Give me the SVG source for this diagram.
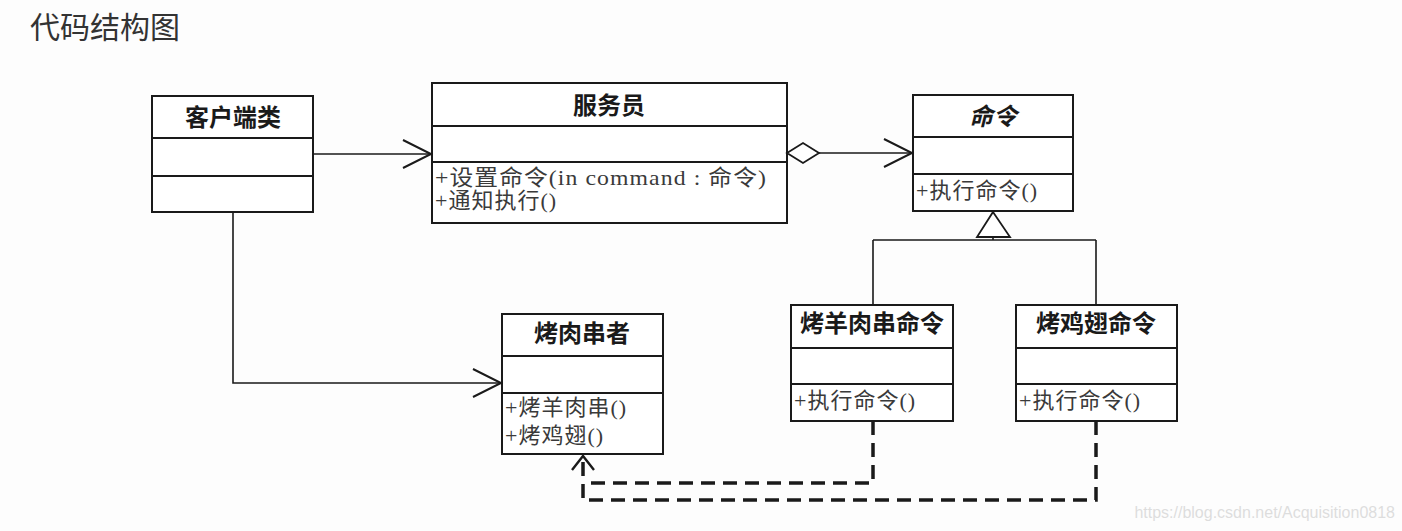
<svg xmlns="http://www.w3.org/2000/svg" width="1402" height="531" viewBox="0 0 1402 531">
  <style>
    .box { fill: #ffffff; stroke: #1a1a1a; stroke-width: 2; }
    .div { stroke: #1a1a1a; stroke-width: 2; }
    .title { font-family: "Noto Sans CJK SC", sans-serif; font-weight: bold; font-size: 24px; fill: #1a1a1a; text-anchor: middle; }
    .member { font-family: "Liberation Serif", "Noto Sans CJK SC", serif; font-size: 22px; letter-spacing: 1px; fill: #3a3a3a; }
    .line { fill: none; stroke: #1a1a1a; stroke-width: 1.6; }
    .dash { fill: none; stroke: #1a1a1a; stroke-width: 3.5; stroke-dasharray: 14 8; }
    .head { fill: none; stroke: #1a1a1a; stroke-width: 2; }
  </style>
  <rect width="1402" height="531" fill="#fdfdfd"/>

  <text x="30" y="38" font-family="Noto Sans CJK SC, sans-serif" font-size="30" fill="#333333">代码结构图</text>

  <!-- client class -->
  <g id="client">
    <rect class="box" x="152" y="96" width="161" height="116"/>
    <line class="div" x1="152" y1="138" x2="313" y2="138"/>
    <line class="div" x1="152" y1="176" x2="313" y2="176"/>
    <text class="title" x="233" y="126">客户端类</text>
  </g>

  <!-- waiter -->
  <g id="waiter">
    <rect class="box" x="432" y="83" width="355" height="140"/>
    <line class="div" x1="432" y1="126" x2="787" y2="126"/>
    <line class="div" x1="432" y1="162" x2="787" y2="162"/>
    <text class="title" x="609" y="114">服务员</text>
    <text class="member" x="435" y="185" textLength="332" lengthAdjust="spacingAndGlyphs">+设置命令(in command  : 命令)</text>
    <text class="member" x="435" y="208">+通知执行()</text>
  </g>

  <!-- abstract command -->
  <g id="command">
    <rect class="box" x="913" y="95" width="160" height="116"/>
    <line class="div" x1="913" y1="137" x2="1073" y2="137"/>
    <line class="div" x1="913" y1="174" x2="1073" y2="174"/>
    <text class="title" x="993" y="125" font-style="italic">命令</text>
    <text class="member" x="916" y="198">+执行命令()</text>
  </g>

  <!-- receiver -->
  <g id="barbecuer">
    <rect class="box" x="502" y="314" width="161" height="140"/>
    <line class="div" x1="502" y1="356" x2="663" y2="356"/>
    <line class="div" x1="502" y1="393" x2="663" y2="393"/>
    <text class="title" x="582" y="342">烤肉串者</text>
    <text class="member" x="505" y="415">+烤羊肉串()</text>
    <text class="member" x="505" y="443">+烤鸡翅()</text>
  </g>

  <!-- concrete commands -->
  <g id="bake-mutton-command">
    <rect class="box" x="791" y="305" width="162" height="116"/>
    <line class="div" x1="791" y1="348" x2="953" y2="348"/>
    <line class="div" x1="791" y1="384" x2="953" y2="384"/>
    <text class="title" x="872" y="332">烤羊肉串命令</text>
    <text class="member" x="794" y="408">+执行命令()</text>
  </g>

  <g id="bake-chicken-wing-command">
    <rect class="box" x="1016" y="305" width="161" height="116"/>
    <line class="div" x1="1016" y1="348" x2="1177" y2="348"/>
    <line class="div" x1="1016" y1="384" x2="1177" y2="384"/>
    <text class="title" x="1096" y="332">烤鸡翅命令</text>
    <text class="member" x="1019" y="408">+执行命令()</text>
  </g>

  <!-- connectors -->
  <g id="connectors">
    <!-- client to waiter -->
    <line class="line" x1="313" y1="154" x2="431" y2="154"/>
    <path class="head" d="M403,140 L431,154 L403,168"/>

    <!-- waiter aggregates command -->
    <path class="box" d="M787,153 L803,143 L819,153 L803,163 Z" style="stroke-width:1.8"/>
    <line class="line" x1="819" y1="153" x2="912" y2="153"/>
    <path class="head" d="M884,139 L912,153 L884,167"/>

    <!-- client to barbecuer -->
    <path class="line" d="M233,212 L233,383 L501,383"/>
    <path class="head" d="M473,369 L501,383 L473,397"/>

    <!-- generalisation -->
    <path class="box" d="M993,212 L1010,237 L977,237 Z" style="stroke-width:1.8"/>
    <path class="line" d="M993,237 L993,240 M873,240 L1096,240 M873,240 L873,305 M1096,240 L1096,305"/>

    <!-- commands depend on barbecuer -->
    <path class="dash" d="M873,421 L873,483 L583,483"/>
    <path class="dash" d="M1096,421 L1096,500 L583,500 L583,458"/>
    <path class="head" d="M572,470 L583,456 L594,470" style="stroke-width:2.4"/>
  </g>

  <text x="1395" y="518" font-family="Liberation Sans, sans-serif" font-size="16" fill="#dddddd" text-anchor="end">https://blog.csdn.net/Acquisition0818</text>
</svg>
